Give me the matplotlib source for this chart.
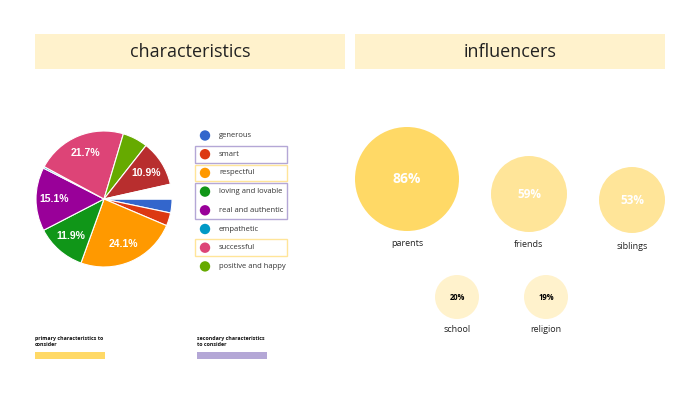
import matplotlib
matplotlib.use('Agg')
import matplotlib.pyplot as plt
from matplotlib.patches import Rectangle, Circle

# === Data ===
traits = ["generous", "smart", "respectful", "loving and lovable", "real and authentic",
          "empathetic", "successful", "positive and happy", "other", ""]
trait_share = [3.3, 3.1, 24.1, 11.9, 15.1, 0.4, 21.7, 6.0, 10.9, 3.5]
trait_colors = ["#3366cc", "#dc3912", "#ff9900", "#109618", "#990099",
                "#0099c6", "#dd4477", "#66aa00", "#b82e2e", "white"]
legend_count = 8  # only first 8 shown in the legend

influencers = ["parents", "friends", "siblings", "school", "religion"]
influence_pct = [86, 59, 53, 20, 19]

# === Layout (pixel coords, y from top) ===
bubble_xy = [(407, 179), (529, 194), (632, 200), (457, 297), (546, 297)]
bubble_r = [52, 38, 33, 22, 22]
bubble_fill = ["#ffd966", "#ffe599", "#ffe599", "#fff2cc", "#fff2cc"]
bubble_txt = ["white", "white", "white", "black", "black"]
label_y = [243, 244, 246, 329, 329]

W, H = 700, 394
fig = plt.figure(figsize=(7, 3.94), dpi=100)
ax = fig.add_axes([0, 0, 1, 1])

def Y(y):
    return H - y

# header bars
for x0, title in [(35, "characteristics"), (355, "influencers")]:
    ax.add_patch(Rectangle((x0, Y(69)), 310, 35, facecolor="#fff2cc", edgecolor="none"))
    ax.text(x0 + 155, Y(52), title, ha="center", va="center", fontsize=13,
            family="Open Sans", color="#222222")

# pie
wedges, texts, autotexts = ax.pie(
    trait_share, colors=trait_colors, startangle=0, counterclock=False,
    center=(104, Y(199)), radius=68, explode=[0.05] + [0] * (len(trait_share) - 1),
    autopct=lambda p: f"{p:.1f}%" if p >= 10 else "", pctdistance=0.73,
    wedgeprops=dict(edgecolor="white", linewidth=0.8),
    textprops=dict(color="white", fontsize=7.5, fontweight="bold", family="Liberation Sans"),
    frame=True)

# legend
row_y = [135.5 + 18.7 * i for i in range(legend_count)]
for i in range(legend_count):
    ax.add_patch(Circle((205, Y(row_y[i])), 5.2, facecolor=trait_colors[i], edgecolor="none"))
    ax.text(219, Y(row_y[i]), traits[i], ha="left", va="center", fontsize=5.5,
            family="Open Sans", color="#333333")

# highlight boxes around legend entries
boxes = [(1, 1, "#b4a7d6"), (2, 2, "#ffe599"), (3, 4, "#b4a7d6"), (6, 6, "#ffe599")]
for a, b, c in boxes:
    top = row_y[a] - 8.3
    bot = row_y[b] + 8.3
    ax.add_patch(Rectangle((195, Y(bot)), 92, bot - top, facecolor="none",
                           edgecolor=c, linewidth=1.0))

# bubbles
for name, pct, (cx, cy), r, fc, tc, ly in zip(influencers, influence_pct, bubble_xy,
                                              bubble_r, bubble_fill, bubble_txt, label_y):
    ax.add_patch(Circle((cx, Y(cy)), r, facecolor=fc, edgecolor="none"))
    big = r > 30
    ax.text(cx, Y(cy), f"{pct}%", ha="center", va="center", color=tc,
            fontsize=10 if r > 45 else (8.5 if big else 5.5), fontweight="bold",
            family="Open Sans")
    ax.text(cx, Y(ly), name, ha="center", va="center", fontsize=6.5,
            family="Open Sans", color="#222222")

# bottom key
for x0, txt, c in [(35, "primary characteristics to\nconsider", "#ffd966"),
                   (197, "secondary characteristics\nto consider", "#b4a7d6")]:
    ax.text(x0, Y(336), txt, ha="left", va="top", fontsize=3.8, fontweight="bold",
            family="Open Sans", color="#111111", linespacing=1.3)
    ax.add_patch(Rectangle((x0, Y(359)), 70, 7, facecolor=c, edgecolor="none"))

ax.set_xlim(0, W)
ax.set_ylim(0, H)
ax.set_aspect("auto")
ax.axis("off")
fig.savefig("out.png", dpi=100, facecolor="white")
